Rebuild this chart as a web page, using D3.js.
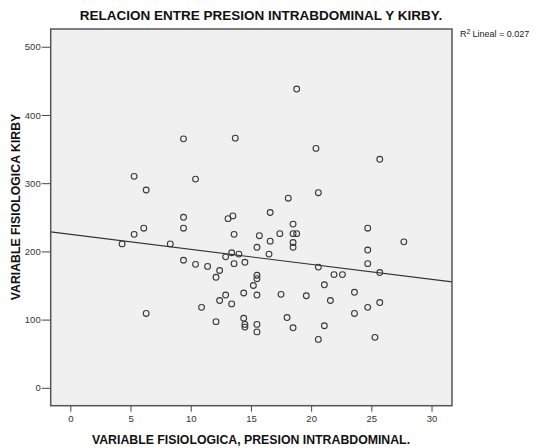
<!DOCTYPE html>
<html>
<head>
<meta charset="utf-8">
<script src="https://cdn.jsdelivr.net/npm/d3@7"></script>
<style>
  body { margin: 0; background: #fff; }
  svg { display: block; font-family: "Liberation Sans", Arial, sans-serif; }
</style>
</head>
<body>
<svg id="chart" width="534" height="448"></svg>
<script>
// presion intrabdominal (x) vs kirby (y)
var presion = [5.3, 6.3, 10.4, 9.4, 9.4, 6.1, 5.3, 4.3, 8.3, 9.4, 10.4, 11.4, 12.4, 12.1,
  20.4, 25.7, 20.6, 18.1, 16.6, 13.5, 13.1, 18.5, 24.7, 13.6, 15.7, 17.4, 18.5, 18.8,
  16.6, 18.5, 18.5, 15.5, 27.7, 24.7, 13.4, 14.0, 12.9, 16.5, 14.5, 13.6, 24.7, 20.6,
  21.9, 22.6, 25.7, 15.5, 15.5, 6.3, 15.2, 14.4, 15.5, 12.9, 12.4, 13.4, 10.9, 12.1,
  14.4, 14.5, 14.5, 15.5, 15.5, 21.1, 17.5, 19.6, 21.6, 23.6, 24.7, 25.7, 23.6, 18.0,
  18.5, 21.1, 20.6, 25.3, 18.8, 9.4, 13.7];
var kirby = [310, 290, 306, 250, 234, 234, 225, 211, 211, 187, 181, 178, 172, 162,
  351, 335, 286, 278, 257, 252, 248, 240, 234, 225, 223, 226, 226, 226,
  215, 213, 206, 206, 214, 202, 198, 196, 192, 196, 184, 182, 182, 177,
  166, 166, 169, 165, 160, 109, 150, 139, 136, 136, 128, 123, 118, 97,
  102, 93, 89, 93, 82, 151, 137, 135, 128, 140, 118, 125, 109, 103,
  88, 91, 71, 74, 438, 365, 366];

var xTicks = [0, 5, 10, 15, 20, 25, 30];
var yTicks = [0, 100, 200, 300, 400, 500];

// linea de ajuste (R2 lineal = 0.027)
var fitIntercept = 225;
var fitSlope = -2.2;
var r2Text = "Lineal = 0.027";

var svg = d3.select("#chart");
var pLeft = 50.7, pRight = 452, pTop = 29, pBottom = 405.7;

var x = d3.scaleLinear().domain([-1.63, 31.7]).range([pLeft, pRight]);
var y = d3.scaleLinear().domain([-26.2, 526]).range([pBottom, pTop]);

// plot background
svg.append("rect")
  .attr("x", pLeft).attr("y", pTop)
  .attr("width", pRight - pLeft).attr("height", pBottom - pTop)
  .style("fill", "#f0f0f0");

// axes
var gx = svg.append("g")
  .attr("transform", "translate(0," + pBottom + ")")
  .call(d3.axisBottom(x).tickValues(xTicks).tickSize(6).tickSizeOuter(0).tickPadding(4));
var gy = svg.append("g")
  .attr("transform", "translate(" + pLeft + ",0)")
  .call(d3.axisLeft(y).tickValues(yTicks).tickSize(9).tickSizeOuter(0).tickPadding(1));
[gx, gy].forEach(function (g) {
  g.select(".domain").remove();
  g.selectAll("line").style("stroke", "#444");
  g.selectAll("text")
    .style("font-size", "9.5px")
    .style("fill", "#333")
    .style("font-family", "'Liberation Sans', Arial, sans-serif");
});

// regression line
var xd = x.domain();
svg.append("line")
  .attr("x1", x(xd[0])).attr("y1", y(fitIntercept + fitSlope * xd[0]))
  .attr("x2", x(xd[1])).attr("y2", y(fitIntercept + fitSlope * xd[1]))
  .style("stroke", "#333").style("stroke-width", 1.1);

// points
var pts = presion.map(function (d, i) { return { p: d, k: kirby[i] }; });
svg.append("g")
  .selectAll("circle")
  .data(pts)
  .enter()
  .append("circle")
  .attr("cx", function (d) { return x(d.p); })
  .attr("cy", function (d) { return y(d.k); })
  .attr("r", 2.9)
  .style("fill", "none")
  .style("stroke", "#3a3a3a")
  .style("stroke-width", 1.1);

// frame
svg.append("rect")
  .attr("x", pLeft).attr("y", pTop)
  .attr("width", pRight - pLeft).attr("height", pBottom - pTop)
  .style("fill", "none").style("stroke", "#555").style("stroke-width", 1.5);

// titles
svg.append("text")
  .attr("x", 261).attr("y", 20)
  .attr("text-anchor", "middle")
  .style("font-size", "13.5px").style("font-weight", "bold").style("fill", "#111")
  .text("RELACION ENTRE PRESION INTRABDOMINAL Y KIRBY.");

svg.append("text")
  .attr("x", 251).attr("y", 444)
  .attr("text-anchor", "middle")
  .style("font-size", "12.3px").style("font-weight", "bold").style("fill", "#111")
  .text("VARIABLE FISIOLOGICA, PRESION INTRABDOMINAL.");

svg.append("text")
  .attr("transform", "translate(20,207) rotate(-90)")
  .attr("text-anchor", "middle")
  .style("font-size", "12.3px").style("font-weight", "bold").style("fill", "#111")
  .text("VARIABLE FISIOLOGICA KIRBY");

// R2 label
var r2 = svg.append("text")
  .attr("x", 460).attr("y", 37)
  .style("font-size", "9px").style("fill", "#222");
r2.append("tspan").text("R");
r2.append("tspan").attr("dy", -3.5).style("font-size", "7px").text("2");
r2.append("tspan").attr("dy", 3.5).attr("dx", 2).text(r2Text);
</script>
</body>
</html>
